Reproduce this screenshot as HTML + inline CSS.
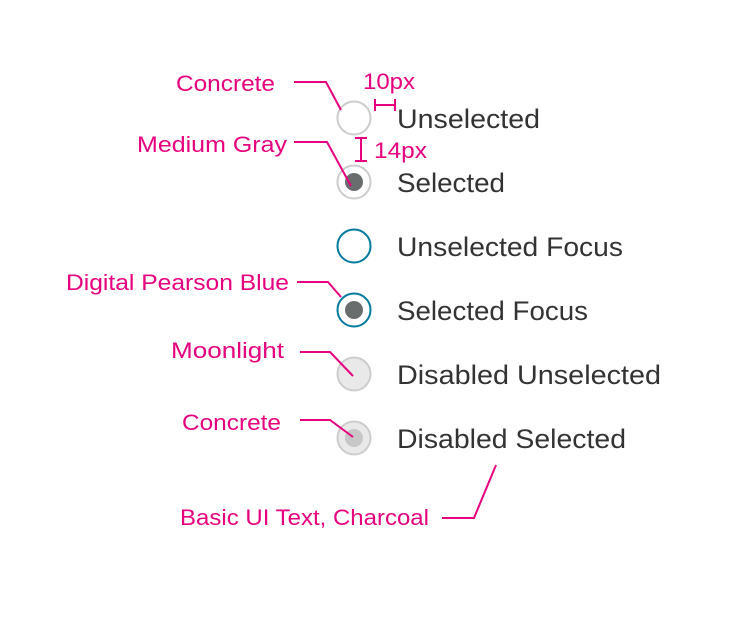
<!DOCTYPE html>
<html><head><style>
body{margin:0;background:#fff}
svg{display:block}
.p{fill:#e6007e;font-family:"Liberation Sans",sans-serif;font-size:22px}
.t{fill:#333;font-family:"Liberation Sans",sans-serif;font-size:27px}
.l{stroke:#e6007e;stroke-width:2;fill:none}
</style></head><body>
<svg width="740" height="624" xmlns="http://www.w3.org/2000/svg">
<circle cx="354" cy="118" r="16.5" fill="#fff" stroke="#ccc" stroke-width="2"/>
<circle cx="354" cy="182" r="16.5" fill="#fff" stroke="#ccc" stroke-width="2"/>
<circle cx="354" cy="182" r="9" fill="#6a6d6d"/>
<circle cx="354" cy="246" r="16.5" fill="#fff" stroke="#047a9c" stroke-width="2"/>
<circle cx="354" cy="310" r="16.5" fill="#fff" stroke="#047a9c" stroke-width="2"/>
<circle cx="354" cy="310" r="9" fill="#6a6d6d"/>
<circle cx="354" cy="374" r="16.5" fill="#e9e9e9" stroke="#ccc" stroke-width="2"/>
<circle cx="354" cy="438" r="16.5" fill="#e9e9e9" stroke="#ccc" stroke-width="2"/>
<circle cx="354" cy="438" r="9" fill="#c7c7c7"/>
<text class="t" x="397" y="128" textLength="143" lengthAdjust="spacingAndGlyphs">Unselected</text>
<text class="t" x="397" y="192" textLength="108" lengthAdjust="spacingAndGlyphs">Selected</text>
<text class="t" x="397" y="256" textLength="226" lengthAdjust="spacingAndGlyphs">Unselected Focus</text>
<text class="t" x="397" y="320" textLength="191" lengthAdjust="spacingAndGlyphs">Selected Focus</text>
<text class="t" x="397" y="384" textLength="264" lengthAdjust="spacingAndGlyphs">Disabled Unselected</text>
<text class="t" x="397" y="448" textLength="229" lengthAdjust="spacingAndGlyphs">Disabled Selected</text>
<text class="p" x="176" y="91" textLength="99" lengthAdjust="spacingAndGlyphs">Concrete</text>
<text class="p" x="137" y="152" textLength="150" lengthAdjust="spacingAndGlyphs">Medium Gray</text>
<text class="p" x="66" y="290" textLength="223" lengthAdjust="spacingAndGlyphs">Digital Pearson Blue</text>
<text class="p" x="171" y="358" textLength="113" lengthAdjust="spacingAndGlyphs">Moonlight</text>
<text class="p" x="182" y="430" textLength="99" lengthAdjust="spacingAndGlyphs">Concrete</text>
<text class="p" x="180" y="525" textLength="249" lengthAdjust="spacingAndGlyphs">Basic UI Text, Charcoal</text>
<text class="p" x="363" y="89" textLength="52" lengthAdjust="spacingAndGlyphs">10px</text>
<text class="p" x="374" y="158" textLength="53" lengthAdjust="spacingAndGlyphs">14px</text>
<path class="l" d="M294 82H326L341 110"/>
<path class="l" d="M294 142H327L351 186"/>
<path class="l" d="M297 282H328L341 297"/>
<path class="l" d="M300 352H330L353 376"/>
<path class="l" d="M300 420H330L353 437"/>
<path class="l" d="M442 518H474L496 465"/>
<path class="l" d="M375 105H395M375 99V111M395 99V111"/>
<path class="l" d="M361 138V161M355 138H367M355 161H367"/>
</svg>
</body></html>
